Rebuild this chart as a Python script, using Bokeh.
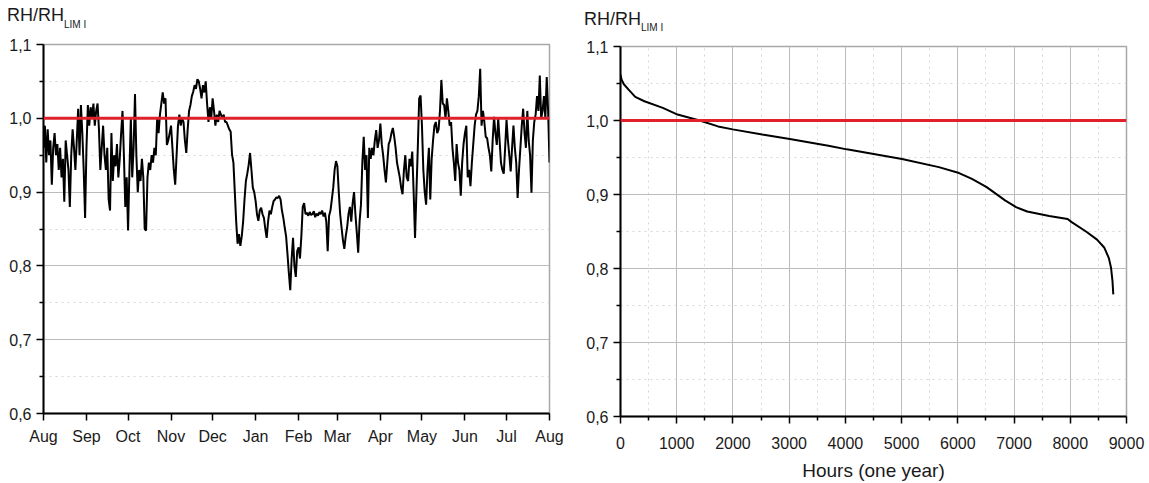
from bokeh.plotting import figure
from bokeh.layouts import row, column
from bokeh.models import FixedTicker, Span, Range1d, Div
from bokeh.embed import file_html
from bokeh.resources import INLINE

# ---------------- data ----------------
# Left chart: daily RH/RH_LIM I, 1 Aug -> 1 Aug (366 values, day index 0..365)
rh_daily = [
    0.960, 0.990, 0.940, 0.985, 0.950, 0.970, 0.910, 0.960, 0.980, 0.950,
    0.965, 0.930, 0.960, 0.920, 0.945, 0.887, 0.970, 0.950, 0.930, 0.880,
    0.950, 0.985, 0.960, 0.930, 0.970, 1.013, 0.950, 1.018, 0.980, 0.930,
    0.865, 0.960, 1.018, 0.990, 1.015, 1.000, 1.020, 0.990, 1.010, 1.020,
    0.985, 0.930, 0.960, 0.990, 0.950, 0.930, 0.960, 0.890, 0.875, 0.980,
    0.915, 0.950, 0.935, 0.965, 0.920, 0.945, 0.980, 1.010, 0.950, 0.880,
    0.920, 0.848, 0.930, 1.000, 0.920, 0.960, 1.033, 0.950, 0.900, 0.930,
    0.915, 0.945, 0.920, 0.850, 0.848, 0.920, 0.940, 0.930, 0.950, 0.940,
    0.960, 0.950, 1.000, 0.980, 1.005, 1.020, 1.035, 1.020, 1.027, 0.964,
    0.970, 0.980, 0.990, 0.960, 0.930, 0.910, 0.950, 0.990, 1.005, 0.990,
    1.000, 0.995, 0.970, 0.953, 0.985, 1.010, 1.018, 1.030, 1.036, 1.045,
    1.040, 1.053, 1.050, 1.040, 1.027, 1.045, 1.035, 1.050, 1.020, 0.995,
    1.015, 1.000, 1.027, 1.010, 0.990, 1.005, 0.995, 1.010, 1.005, 1.000,
    1.005, 0.995, 0.995, 0.990, 0.985, 0.982, 0.951, 0.940, 0.900, 0.860,
    0.830, 0.843, 0.827, 0.840, 0.860, 0.890, 0.915, 0.925, 0.937, 0.953,
    0.930, 0.906, 0.900, 0.888, 0.870, 0.861, 0.875, 0.879, 0.870, 0.865,
    0.850, 0.838, 0.860, 0.875, 0.870, 0.880, 0.888, 0.890, 0.893, 0.892,
    0.895, 0.890, 0.875, 0.865, 0.852, 0.840, 0.816, 0.790, 0.767, 0.810,
    0.838, 0.800, 0.785, 0.820, 0.825, 0.810, 0.840, 0.880, 0.885, 0.870,
    0.872, 0.868, 0.873, 0.869, 0.870, 0.874, 0.866, 0.871, 0.868, 0.873,
    0.870, 0.875, 0.867, 0.872, 0.860, 0.820, 0.868, 0.875, 0.890, 0.906,
    0.930, 0.942, 0.935, 0.900, 0.870, 0.852, 0.835, 0.823, 0.840, 0.852,
    0.870, 0.880, 0.860, 0.885, 0.900, 0.870, 0.845, 0.818, 0.860, 0.883,
    0.940, 0.975, 0.930, 0.950, 0.865, 0.960, 0.945, 0.960, 0.950, 0.970,
    0.984, 0.960, 0.970, 0.993, 0.965, 0.950, 0.930, 0.913, 0.940, 0.965,
    0.970, 0.980, 0.987, 0.975, 0.960, 0.940, 0.930, 0.920, 0.906, 0.897,
    0.930, 0.950, 0.920, 0.915, 0.945, 0.935, 0.955, 0.900, 0.838, 0.900,
    0.960, 1.027, 1.031, 0.990, 0.930, 0.900, 0.883, 0.930, 0.960, 0.890,
    0.945, 0.970, 0.990, 0.995, 0.980, 0.985, 1.010, 1.052, 1.020, 1.018,
    1.000, 1.027, 1.010, 0.990, 0.995, 0.960, 0.940, 0.915, 0.965, 0.940,
    0.930, 0.895, 0.940, 0.965, 0.980, 0.990, 0.920, 0.930, 0.908, 0.940,
    0.965, 0.990, 1.005, 1.010, 1.030, 1.067, 0.990, 1.010, 0.995, 0.975,
    0.973, 0.960, 0.950, 0.928, 0.970, 1.002, 0.980, 0.964, 1.000, 0.970,
    0.940, 0.930, 0.925, 0.960, 0.998, 0.970, 0.950, 0.928, 0.960, 0.990,
    0.960, 0.940, 0.892, 0.930, 0.960, 0.990, 1.013, 0.980, 0.960, 1.010,
    0.970, 0.950, 0.899, 0.970, 0.995, 1.005, 1.030, 1.010, 1.058, 1.000,
    1.010, 1.030, 1.000, 1.056, 1.010, 0.940,
]
days = list(range(len(rh_daily)))

month_starts = [0, 31, 61, 92, 122, 153, 184, 212, 243, 273, 304, 334, 365]
month_labels = ["Aug", "Sep", "Oct", "Nov", "Dec", "Jan", "Feb", "Mar",
                "Apr", "May", "Jun", "Jul", "Aug"]

# Right chart: duration curve (hours sorted by RH/RH_LIM I)
hours = [0, 20, 60, 140, 262, 425, 753, 1015, 1407, 1735, 1996, 2520, 3011,
         3698, 4025, 5007, 5662, 6022, 6251, 6513, 6840, 7036, 7233, 7625,
         7953, 8018, 8280, 8476, 8607, 8686, 8725, 8751, 8765]
rh_sorted = [1.062, 1.055, 1.049, 1.042, 1.032, 1.026, 1.017, 1.008, 1.000,
             0.992, 0.988, 0.981, 0.975, 0.966, 0.961, 0.948, 0.937, 0.929,
             0.921, 0.910, 0.892, 0.883, 0.877, 0.871, 0.867, 0.863, 0.850,
             0.839, 0.828, 0.814, 0.801, 0.783, 0.765]

y_ticks = [0.6, 0.7, 0.8, 0.9, 1.0, 1.1]
y_tick_labels = ["0,6", "0,7", "0,8", "0,9", "1,0", "1,1"]
y_minor = [0.65, 0.75, 0.85, 0.95, 1.05]
hour_ticks = [0, 1000, 2000, 3000, 4000, 5000, 6000, 7000, 8000, 9000]
hour_minor = [500, 1500, 2500, 3500, 4500, 5500, 6500, 7500, 8500]
LIMIT = 1.0
Y_TITLE = "RH/RH"
Y_TITLE_SUB = "LIM I"

FONT = "Liberation Sans"
TEXT = "#1a1a1a"
GRID = "#bcbcbc"
MINOR_GRID = "#d6d6d6"
RED = "#e0202a"
HEAD = 32  # height of the title strip above each chart


def style(p):
    p.background_fill_color = "white"
    p.border_fill_color = "white"
    p.outline_line_color = "#a8a8a8"
    p.outline_line_width = 1.5
    for ax in (p.xaxis, p.yaxis):
        ax.axis_line_color = "black"
        ax.axis_line_width = 2
        ax.major_tick_line_color = "black"
        ax.major_tick_line_width = 1.5
        ax.minor_tick_line_color = "black"
        ax.minor_tick_line_width = 1.5
        ax.major_tick_in = 0
        ax.major_tick_out = 7
        ax.minor_tick_in = 0
        ax.minor_tick_out = 4
        ax.major_label_text_font = FONT
        ax.major_label_text_font_size = "16px"
        ax.major_label_text_color = TEXT
    p.yaxis.ticker = FixedTicker(ticks=y_ticks, minor_ticks=y_minor)
    p.yaxis.major_label_overrides = dict(zip(y_ticks, y_tick_labels))
    p.yaxis.major_label_standoff = 5
    p.ygrid.grid_line_color = GRID
    p.ygrid.grid_line_width = 1
    p.ygrid.minor_grid_line_color = MINOR_GRID
    p.ygrid.minor_grid_line_dash = "dotted"
    p.ygrid.minor_grid_line_width = 1
    p.add_layout(Span(location=LIMIT, dimension="width", line_color=RED,
                      line_width=3))


def head(width, pad_top, pad_left, sub_drop):
    html = (
        f'<div style="font-family:\'{FONT}\';font-size:18px;line-height:18px;'
        f'color:{TEXT};padding:{pad_top}px 0 0 {pad_left}px;white-space:nowrap">'
        f'{Y_TITLE}<span style="font-size:10px;vertical-align:-{sub_drop}px;'
        f'line-height:0">{Y_TITLE_SUB}</span></div>'
    )
    return Div(text=html, width=width, height=HEAD, margin=0)


# ---------------- left chart ----------------
p1 = figure(width=575, height=483 - HEAD, x_range=Range1d(0, 365),
            y_range=Range1d(0.6, 1.1), output_backend="svg",
            toolbar_location=None, min_border_left=43, min_border_right=26,
            min_border_top=44 - HEAD, min_border_bottom=70)
style(p1)
p1.line(days, rh_daily, line_color="black", line_width=2)
p1.xaxis.ticker = FixedTicker(ticks=month_starts, minor_ticks=[])
p1.xaxis.major_label_overrides = dict(zip(month_starts, month_labels))
p1.xaxis.major_label_standoff = 7
p1.xgrid.visible = False

# ---------------- right chart ----------------
p2 = figure(width=574, height=483 - HEAD, x_range=Range1d(0, 9000),
            y_range=Range1d(0.6, 1.1), output_backend="svg",
            toolbar_location=None, min_border_left=45, min_border_right=23,
            min_border_top=46 - HEAD, min_border_bottom=63)
style(p2)
p2.line(hours, rh_sorted, line_color="black", line_width=2)
p2.xaxis.ticker = FixedTicker(ticks=hour_ticks, minor_ticks=hour_minor)
p2.xaxis.major_label_standoff = 13
p2.xaxis.axis_label = "Hours (one year)"
p2.xaxis.axis_label_text_font = FONT
p2.xaxis.axis_label_text_font_size = "19px"
p2.xaxis.axis_label_text_font_style = "normal"
p2.xaxis.axis_label_text_color = TEXT
p2.xaxis.axis_label_standoff = 8
p2.xgrid.grid_line_color = GRID
p2.xgrid.minor_grid_line_color = MINOR_GRID
p2.xgrid.minor_grid_line_dash = "dotted"

layout = row(column(head(575, 6, 7, 7), p1), column(head(574, 10, 9, 6), p2))
open("out.html", "w").write(file_html(layout, INLINE))
